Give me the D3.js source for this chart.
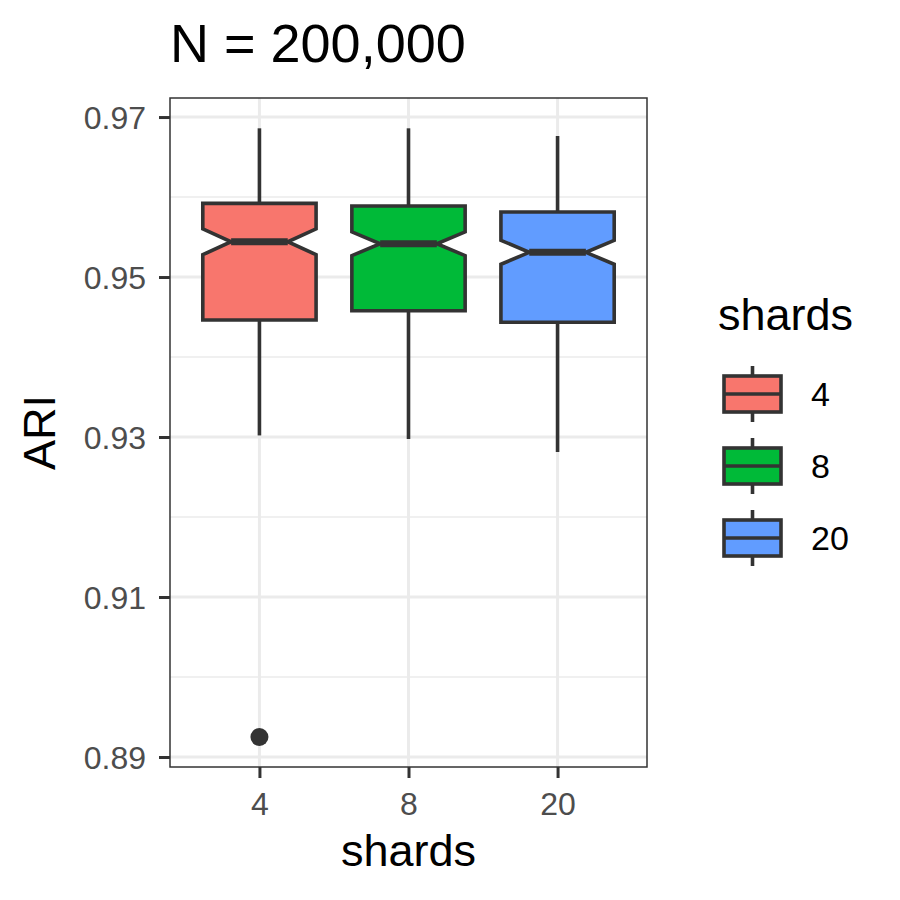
<!DOCTYPE html>
<html><head><meta charset="utf-8">
<script src="https://cdn.jsdelivr.net/npm/d3@7"></script>
<style>body{margin:0;background:#fff}text{font-family:"Liberation Sans",Arial,sans-serif}</style>
</head><body><svg id="c" width="900" height="900"></svg>
<script>
const categories = ["4","8","20"];
const colors = ["#F8766D","#00BA38","#619CFF"];
const whiskerLow = [0.9302,0.92975,0.92813];
const q1 = [0.94463,0.94579,0.94434];
const median = [0.95441,0.95416,0.95309];
const q3 = [0.95921,0.95888,0.95813];
const whiskerHigh = [0.96859,0.96859,0.96763];
const notchHalf = [0.00162,0.00148,0.0015];
const outliers = [{cat:"4", v:0.8925}];
const yTicks = [0.89,0.91,0.93,0.95,0.97];
const yMinor = [0.90,0.92,0.94,0.96];

const svg = d3.select("#c");
const L=170,R=647,T=98,B=767;
const y = d3.scaleLinear().domain([0.88875,0.97238]).range([B,T]);
const x = d3.scalePoint().domain(categories).range([L,R]).padding(0.6);
const step = x.step();
const boxW = step*0.76;
const SW = 3.6;

// panel
svg.append("rect").attr("x",L).attr("y",T).attr("width",R-L).attr("height",B-T).attr("fill","#fff");
const g = svg.append("g");
yMinor.forEach(v=>g.append("line").attr("x1",L).attr("x2",R).attr("y1",y(v)).attr("y2",y(v)).attr("stroke","#ebebeb").attr("stroke-width",1.5));
yTicks.forEach(v=>g.append("line").attr("x1",L).attr("x2",R).attr("y1",y(v)).attr("y2",y(v)).attr("stroke","#ebebeb").attr("stroke-width",3));
categories.forEach(c=>g.append("line").attr("x1",x(c)).attr("x2",x(c)).attr("y1",T).attr("y2",B).attr("stroke","#ebebeb").attr("stroke-width",3));

// boxes
categories.forEach((c,i)=>{
  const cx=x(c), hw=boxW/2, nw=hw/2;
  const bg=svg.append("g");
  bg.append("line").attr("x1",cx).attr("x2",cx).attr("y1",y(whiskerHigh[i])).attr("y2",y(q3[i])).attr("stroke","#333").attr("stroke-width",SW);
  bg.append("line").attr("x1",cx).attr("x2",cx).attr("y1",y(q1[i])).attr("y2",y(whiskerLow[i])).attr("stroke","#333").attr("stroke-width",SW);
  const nt=y(median[i]+notchHalf[i]), nb=y(median[i]-notchHalf[i]), m=y(median[i]);
  const pts=[[cx-hw,y(q3[i])],[cx+hw,y(q3[i])],[cx+hw,nt],[cx+nw,m],[cx+hw,nb],[cx+hw,y(q1[i])],[cx-hw,y(q1[i])],[cx-hw,nb],[cx-nw,m],[cx-hw,nt]];
  bg.append("path").attr("d",d3.line()(pts)+"Z").attr("fill",colors[i]).attr("stroke","#333").attr("stroke-width",SW).attr("stroke-linejoin","miter");
  bg.append("line").attr("x1",cx-nw).attr("x2",cx+nw).attr("y1",m).attr("y2",m).attr("stroke","#333").attr("stroke-width",7);
});
outliers.forEach(o=>svg.append("circle").attr("cx",x(o.cat)).attr("cy",y(o.v)).attr("r",9).attr("fill","#333"));

// border
svg.append("rect").attr("x",L).attr("y",T).attr("width",R-L).attr("height",B-T).attr("fill","none").attr("stroke","#333").attr("stroke-width",1.5);

const FF="Liberation Sans, Arial, sans-serif";
// axes
const ya=svg.append("g").attr("transform",`translate(${L},0)`).call(d3.axisLeft(y).tickValues(yTicks).tickSize(11).tickPadding(13).tickFormat(d3.format(".2f")));
ya.select(".domain").remove();
ya.selectAll("line").attr("stroke","#333").attr("stroke-width",3);
ya.selectAll("text").attr("fill","#4d4d4d").style("font-size","32px").style("font-family",FF).attr("dy","0.36em");
const xa=svg.append("g").attr("transform",`translate(0,${B})`).call(d3.axisBottom(x).tickSize(11).tickPadding(5));
xa.select(".domain").remove();
xa.selectAll("line").attr("stroke","#333").attr("stroke-width",3);
xa.selectAll("text").attr("fill","#4d4d4d").style("font-size","32px").style("font-family",FF).attr("dy",null).attr("y",48);

// titles
svg.append("text").attr("x",170).attr("y",62).style("font-size","54px").attr("fill","#000").text("N = 200,000");
svg.append("text").attr("x",(L+R)/2).attr("y",866).attr("text-anchor","middle").style("font-size","45px").attr("fill","#000").text("shards");
svg.append("text").attr("transform",`translate(55,${(T+B)/2}) rotate(-90)`).attr("text-anchor","middle").style("font-size","45px").attr("fill","#000").text("ARI");

// legend
svg.append("text").attr("x",718).attr("y",330).style("font-size","45px").attr("fill","#000").text("shards");
categories.forEach((c,i)=>{
  const cy=394+i*72, lx=724, lw=57, lc=lx+lw/2;
  const lg=svg.append("g");
  lg.append("line").attr("x1",lc).attr("x2",lc).attr("y1",cy-28).attr("y2",cy+28).attr("stroke","#333").attr("stroke-width",SW);
  lg.append("rect").attr("x",lx).attr("y",cy-18).attr("width",lw).attr("height",36).attr("fill",colors[i]).attr("stroke","#333").attr("stroke-width",SW);
  lg.append("line").attr("x1",lx).attr("x2",lx+lw).attr("y1",cy).attr("y2",cy).attr("stroke","#333").attr("stroke-width",SW);
  lg.append("text").attr("x",811).attr("y",cy).attr("dy","0.36em").style("font-size","34px").attr("fill","#000").text(c);
});
</script></body></html>
